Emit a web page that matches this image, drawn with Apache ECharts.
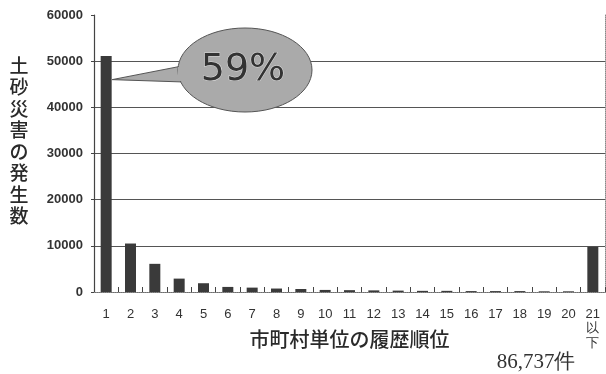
<!DOCTYPE html>
<html>
<head>
<meta charset="utf-8">
<script src="https://cdn.jsdelivr.net/npm/echarts@6/dist/echarts.min.js"></script>
<style>
  html, body { margin: 0; padding: 0; background: #fff; }
  #chart { width: 606px; height: 374px; }
</style>
</head>
<body>
<div id="chart"></div>
<script>
// Rank of each municipality's disaster history (1 = most frequent, last = 21 and below)
const ranks = ['1','2','3','4','5','6','7','8','9','10','11','12','13','14','15','16','17','18','19','20','21\n以\n下'];
// Number of sediment disasters per rank
const counts = [51100, 10500, 6100, 2900, 1900, 1100, 950, 750, 650, 450, 400, 350, 300, 250, 250, 200, 200, 200, 150, 150, 9800];
const yTicks = [0, 10000, 20000, 30000, 40000, 50000, 60000];
const totalLabel = '86,737件';
const shareLabel = '59%';
const yTitle = '土砂災害の発生数';
const xTitle = '市町村単位の履歴順位';

const chart = echarts.init(document.getElementById('chart'), null, { renderer: 'canvas' });
const hidden = 'rgba(0,0,0,0)';
const gridColors = yTicks.map((v, i) => (i === 0 || i === yTicks.length - 1) ? hidden : '#555');

chart.setOption({
  animation: false,
  backgroundColor: '#fff',
  grid: { left: 94, right: 1, top: 15, bottom: 82, outerBoundsMode: 'none', containLabel: false },
  xAxis: [{
    type: 'category',
    data: ranks,
    axisLine: { lineStyle: { color: '#444', width: 1.2 } },
    axisTick: { show: true, inside: true, length: 5, interval: 0, lineStyle: { color: '#444' } },
    axisLabel: { interval: 0, margin: 15, fontSize: 13, color: '#333', lineHeight: 14.5,
                 fontFamily: 'Liberation Sans, Arial, sans-serif' },
    name: xTitle,
    nameLocation: 'middle',
    nameGap: 37,
    nameMoveOverlap: false,
    nameTextStyle: { fontSize: 20, color: '#2a2a2a', fontWeight: 500, verticalAlign: 'top',
                     fontFamily: 'Noto Sans CJK JP, sans-serif' }
  }, {
    type: 'category',
    position: 'top',
    data: ranks,
    axisLine: { lineStyle: { color: '#888', type: 'dotted', width: 1 } },
    axisTick: { show: false },
    axisLabel: { show: false }
  }],
  yAxis: [{
    type: 'value',
    min: 0,
    max: 60000,
    interval: 10000,
    axisLine: { show: true, lineStyle: { color: '#444', width: 1.2 } },
    axisTick: { show: true, length: 3, lineStyle: { color: '#444' } },
    axisLabel: { fontSize: 13, color: '#333', margin: 11, fontWeight: 'bold',
                 formatter: v => String(v),
                 fontFamily: 'Liberation Sans, Arial, sans-serif' },
    splitLine: { show: true, lineStyle: { color: gridColors, width: 1 } }
  }, {
    type: 'value',
    position: 'right',
    min: 0,
    max: 60000,
    interval: 10000,
    axisLine: { show: true, lineStyle: { color: '#888', type: 'dotted', width: 1 } },
    axisTick: { show: false },
    axisLabel: { show: false },
    splitLine: { show: false }
  }],
  series: [{
    type: 'bar',
    data: counts,
    barWidth: 11,
    itemStyle: { color: '#3a3a3a' }
  }]
});

// Callout bubble pointing at the first bar, plus titles
function drawAnnotations() {
  const tip = chart.convertToPixel({ xAxisIndex: 0, yAxisIndex: 0 }, [0, 46000]);
  const tipX = tip[0] + 6;
  const tipY = tip[1];
  const cx = 245, cy = 70, rx = 67, ry = 42;
  chart.setOption({
    graphic: [
      {
        type: 'polygon',
        shape: { points: [[tipX, tipY], [cx - rx + 4, cy - 4], [cx - rx + 6, cy + 12]] },
        style: { fill: '#aaa', stroke: '#555', lineWidth: 1 },
        z: 10
      },
      {
        type: 'ellipse',
        shape: { cx: cx, cy: cy, rx: rx, ry: ry },
        style: { fill: '#aaa', stroke: '#555', lineWidth: 1 },
        z: 11
      },
      {
        type: 'rect',
        shape: { x: cx - rx, y: cy - 3, width: 8, height: 14 },
        style: { fill: '#aaa' },
        z: 11
      },
      {
        type: 'text',
        x: cx - 2, y: cy,
        style: { text: shareLabel, fontSize: 38, fill: '#333', align: 'center', verticalAlign: 'middle',
                 fontFamily: 'DejaVu Sans, sans-serif', stroke: '#ddd', lineWidth: 1 },
        z: 12
      },
      {
        type: 'text',
        x: 19, y: 55,
        style: { text: yTitle.split('').join('\n'), fontSize: 19, lineHeight: 21.5, fill: '#2a2a2a',
                 fontWeight: 500, align: 'center', verticalAlign: 'top',
                 fontFamily: 'Noto Sans CJK JP, sans-serif' },
        z: 12
      },
      {
        type: 'text',
        x: 536, y: 362,
        style: { text: totalLabel, fontSize: 21, fill: '#333', align: 'center', verticalAlign: 'middle',
                 fontFamily: 'Liberation Serif, serif' },
        z: 12
      }
    ]
  });
}
drawAnnotations();
</script>
</body>
</html>
